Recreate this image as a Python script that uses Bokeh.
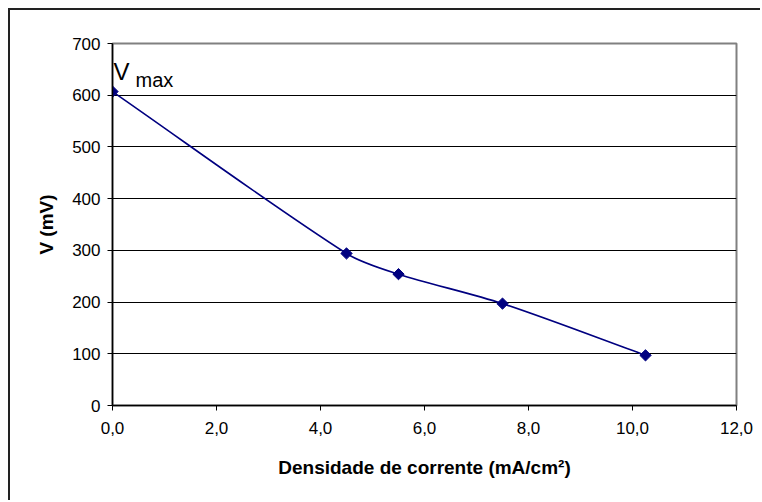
import math
from bokeh.plotting import figure
from bokeh.models import Label, FixedTicker, Range1d
from bokeh.embed import file_html
from bokeh.resources import INLINE

# ---- data ----
densidade = [0.0, 4.5, 5.5, 7.5, 10.25]          # mA/cm²
tensao = [607, 294, 254, 197, 97]                 # mV
x_ticks = [0, 2, 4, 6, 8, 10, 12]
x_tick_labels = ["0,0", "2,0", "4,0", "6,0", "8,0", "10,0", "12,0"]
y_ticks = [0, 100, 200, 300, 400, 500, 600, 700]
x_title = "Densidade de corrente (mA/cm²)"
y_title = "V (mV)"

FONT = "Liberation Sans"
NAVY = "#000080"
FRAME_W, FRAME_H = 624, 362
X0, X1, Y0, Y1 = 0, 12, 0, 700

p = figure(width=752, height=492, margin=(10, 0, 0, 10),
           output_backend="svg", toolbar_location=None,
           x_range=Range1d(X0, X1), y_range=Range1d(Y0, Y1),
           min_border_left=102, min_border_top=33,
           min_border_right=26, min_border_bottom=97,
           styles={"box-shadow": "-2px -2px 0 0 #222222"})

p.background_fill_color = "white"
p.border_fill_color = "white"
p.outline_line_color = "#808080"
p.outline_line_width = 2

# grid
p.xgrid.grid_line_color = None
p.ygrid.grid_line_color = "#000000"
p.ygrid.grid_line_width = 1
p.ygrid.ticker = FixedTicker(ticks=y_ticks)

# axes
for ax in (p.xaxis[0], p.yaxis[0]):
    ax.axis_line_color = "black"
    ax.axis_line_width = 1.5
    ax.major_tick_line_color = "black"
    ax.major_tick_out = 5
    ax.major_tick_in = 0
    ax.minor_tick_line_color = None
    ax.major_label_text_font = FONT
    ax.major_label_text_font_size = "17px"
    ax.major_label_text_color = "black"
    ax.axis_label_text_font = FONT
    ax.axis_label_text_font_size = "19px"
    ax.axis_label_text_font_style = "bold"
    ax.axis_label_text_color = "black"

p.xaxis.ticker = FixedTicker(ticks=x_ticks)
p.xaxis.major_label_overrides = {t: l for t, l in zip(x_ticks, x_tick_labels)}
p.xaxis.major_label_standoff = 11
p.xaxis.axis_label = x_title
p.xaxis.axis_label_standoff = 20

p.yaxis.ticker = FixedTicker(ticks=y_ticks)
p.yaxis.major_label_standoff = 7
p.yaxis.axis_label = y_title
p.yaxis.axis_label_standoff = 12

# smoothed line: cubic Bezier segments, tangents computed in screen proportions
sx = FRAME_W / (X1 - X0)
sy = FRAME_H / (Y1 - Y0)
pts = [(x * sx, y * sy) for x, y in zip(densidade, tensao)]
n = len(pts)

def tangent(i):
    a = pts[max(i - 1, 0)]
    b = pts[min(i + 1, n - 1)]
    dx, dy = b[0] - a[0], b[1] - a[1]
    d = math.hypot(dx, dy)
    return dx / d, dy / d

x0s, y0s, x1s, y1s, cx0, cy0, cx1, cy1 = [], [], [], [], [], [], [], []
for i in range(n - 1):
    a, b = pts[i], pts[i + 1]
    L = math.hypot(b[0] - a[0], b[1] - a[1]) * 0.3
    ta, tb = tangent(i), tangent(i + 1)
    x0s.append(densidade[i]); y0s.append(tensao[i])
    x1s.append(densidade[i + 1]); y1s.append(tensao[i + 1])
    cx0.append((a[0] + ta[0] * L) / sx); cy0.append((a[1] + ta[1] * L) / sy)
    cx1.append((b[0] - tb[0] * L) / sx); cy1.append((b[1] - tb[1] * L) / sy)
p.bezier(x0=x0s, y0=y0s, x1=x1s, y1=y1s, cx0=cx0, cy0=cy0, cx1=cx1, cy1=cy1,
         line_color=NAVY, line_width=1.6)

p.scatter(densidade, tensao, marker="square", angle=math.pi / 4, size=8,
          fill_color=NAVY, line_color=NAVY)

# V_max annotation
p.add_layout(Label(x=densidade[0], y=tensao[0], text="V", x_offset=1, y_offset=20,
                   text_font=FONT, text_font_size="24px", text_color="black",
                   text_baseline="alphabetic"))
p.add_layout(Label(x=densidade[0], y=tensao[0], text="max", x_offset=23, y_offset=12,
                   text_font=FONT, text_font_size="20px", text_color="black",
                   text_baseline="alphabetic"))

open("out.html", "w").write(file_html(p, INLINE))
